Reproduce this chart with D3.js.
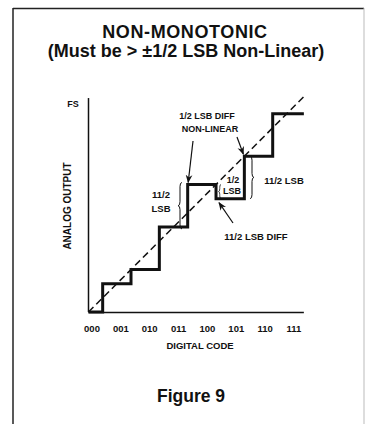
<!DOCTYPE html>
<html>
<head>
<meta charset="utf-8">
<script src="https://cdn.jsdelivr.net/npm/d3@7/dist/d3.min.js"></script>
<style>
  html, body { margin: 0; padding: 0; background: #fff; }
  svg { display: block; }
  text { font-family: "Liberation Sans", Arial, Helvetica, sans-serif; font-weight: bold; fill: #111; }
</style>
</head>
<body>
<svg id="chart" width="366" height="424"></svg>
<script>
// ---- data ----
const codes = ["000", "001", "010", "011", "100", "101", "110", "111"];
const outputLevels = [0, 1, 1.5, 3, 4.5, 4, 5.5, 7];   // analog output in LSB for each code
const fullScale = 7.5;
const titleLines = ["NON-MONOTONIC", "(Must be > \u00B11/2 LSB Non-Linear)"];

const svg = d3.select("#chart");

// frame
svg.append("line").attr("x1", 13).attr("y1", 8.5).attr("x2", 364).attr("y2", 8.5).attr("stroke", "#222").attr("stroke-width", 1.3);
svg.append("line").attr("x1", 13).attr("y1", 8).attr("x2", 13).attr("y2", 424).attr("stroke", "#222").attr("stroke-width", 1.5);
svg.append("line").attr("x1", 364).attr("y1", 8).attr("x2", 364).attr("y2", 424).attr("stroke", "#bbb").attr("stroke-width", 1);

// title
svg.append("text").attr("x", 185).attr("y", 38).attr("text-anchor", "middle")
  .attr("font-size", 18).attr("letter-spacing", 0.6).text(titleLines[0]);
svg.append("text").attr("x", 186).attr("y", 57).attr("text-anchor", "middle")
  .attr("font-size", 18).text(titleLines[1]);

// scales (LSB units)
const x = d3.scaleLinear().domain([0, 7.64]).range([88.5, 305]);
const y = d3.scaleLinear().domain([0, 7.64]).range([312, 95.5]);
const xLabel = d3.scalePoint().domain(codes).range([92, 294]);

// axes lines
svg.append("line").attr("x1", x(0)).attr("x2", x(0)).attr("y1", y(0)).attr("y2", y(fullScale + 0.05))
  .attr("stroke", "#111").attr("stroke-width", 1.5);
svg.append("line").attr("x1", x(0)).attr("x2", x(7.6)).attr("y1", y(0) + 0.5).attr("y2", y(0) + 0.5)
  .attr("stroke", "#111").attr("stroke-width", 1.5);

// ideal transfer (dashed)
svg.append("line").attr("x1", x(0)).attr("y1", y(0)).attr("x2", x(7.64)).attr("y2", y(7.64))
  .attr("stroke", "#111").attr("stroke-width", 1.5).attr("stroke-dasharray", "7,4");

// staircase
const stepPts = [];
outputLevels.forEach((v, i) => {
  stepPts.push([i === 0 ? 0 : i - 0.5, v]);
});
stepPts.push([7.6, outputLevels[7]]);
const stair = d3.line().x(d => x(d[0])).y(d => y(d[1])).curve(d3.curveStepAfter);
svg.append("path").attr("d", stair(stepPts)).attr("fill", "none")
  .attr("stroke", "#111").attr("stroke-width", 3).attr("stroke-linejoin", "miter");

// tick labels
svg.selectAll(".tick").data(codes).enter().append("text")
  .attr("x", d => xLabel(d)).attr("y", 332).attr("text-anchor", "middle")
  .attr("font-size", 9.5).text(d => d);

svg.append("text").attr("x", 200).attr("y", 349).attr("text-anchor", "middle")
  .attr("font-size", 9.5).text("DIGITAL CODE");

svg.append("text").attr("transform", "translate(71,206) rotate(-90)").attr("text-anchor", "middle")
  .attr("font-size", 10).text("ANALOG OUTPUT");

svg.append("text").attr("x", 73).attr("y", 107).attr("text-anchor", "middle")
  .attr("font-size", 9).text("FS");

// arrow marker
const defs = svg.append("defs");
defs.append("marker").attr("id", "ah").attr("viewBox", "0 0 10 10").attr("refX", 9).attr("refY", 5)
  .attr("markerWidth", 7).attr("markerHeight", 7).attr("orient", "auto")
  .append("path").attr("d", "M0,1 L10,5 L0,9 L3,5 Z").attr("fill", "#111");

function arrow(x1, y1, x2, y2) {
  svg.append("line").attr("x1", x1).attr("y1", y1).attr("x2", x2).attr("y2", y2)
    .attr("stroke", "#111").attr("stroke-width", 1.2).attr("marker-end", "url(#ah)");
}

// brace: vertical, at xe (ends), spanning ya..yb, tip direction d (-1 left, +1 right), width w
function brace(xe, ya, yb, d, w, sw) {
  const top = Math.min(ya, yb), bot = Math.max(ya, yb);
  const m = (top + bot) / 2, h = bot - top, r = Math.min(4, h / 5);
  const xm = xe + d * w / 2, xt = xe + d * w;
  const p = `M${xe},${top} Q${xm},${top} ${xm},${top + r} L${xm},${m - r} Q${xm},${m} ${xt},${m}` +
            ` Q${xm},${m} ${xm},${m + r} L${xm},${bot - r} Q${xm},${bot} ${xe},${bot}`;
  svg.append("path").attr("d", p).attr("fill", "none").attr("stroke", "#111").attr("stroke-width", sw || 1);
}

// annotations
svg.append("text").attr("x", 207).attr("y", 119).attr("text-anchor", "middle").attr("font-size", 9).text("1/2 LSB DIFF");
svg.append("text").attr("x", 210).attr("y", 132).attr("text-anchor", "middle").attr("font-size", 9).text("NON-LINEAR");
arrow(193, 141, x(3.5) + 0.5, y(4.5) - 2);
arrow(237, 137, x(5.5) - 1, y(5.5) - 2);

// 1 1/2 LSB left of step 011->100
svg.append("text").attr("x", 161).attr("y", 198).attr("text-anchor", "middle").attr("font-size", 9.5).text("11/2");
svg.append("text").attr("x", 161).attr("y", 212).attr("text-anchor", "middle").attr("font-size", 9.5).text("LSB");
brace(182, y(4.5) - 2, y(3) + 2, -1, 4, 1);

// 1/2 LSB small box
svg.append("text").attr("x", 233).attr("y", 183).attr("text-anchor", "middle").attr("font-size", 9).text("1/2");
svg.append("text").attr("x", 232).attr("y", 194).attr("text-anchor", "middle").attr("font-size", 9).text("LSB");
brace(221, y(4.5), y(4), -1, 2.5, 0.8);

// 1 1/2 LSB right
brace(250, y(5.5), y(4), 1, 4, 1);
svg.append("text").attr("x", 284).attr("y", 184).attr("text-anchor", "middle").attr("font-size", 9.5).text("11/2 LSB");

// 1 1/2 LSB DIFF
svg.append("text").attr("x", 256).attr("y", 240).attr("text-anchor", "middle").attr("font-size", 9.5).text("11/2 LSB DIFF");
arrow(233, 223, x(4.5) + 3, y(4) + 4);

// caption
svg.append("text").attr("x", 191).attr("y", 402).attr("text-anchor", "middle").attr("font-size", 17.5).text("Figure 9");
</script>
</body>
</html>
